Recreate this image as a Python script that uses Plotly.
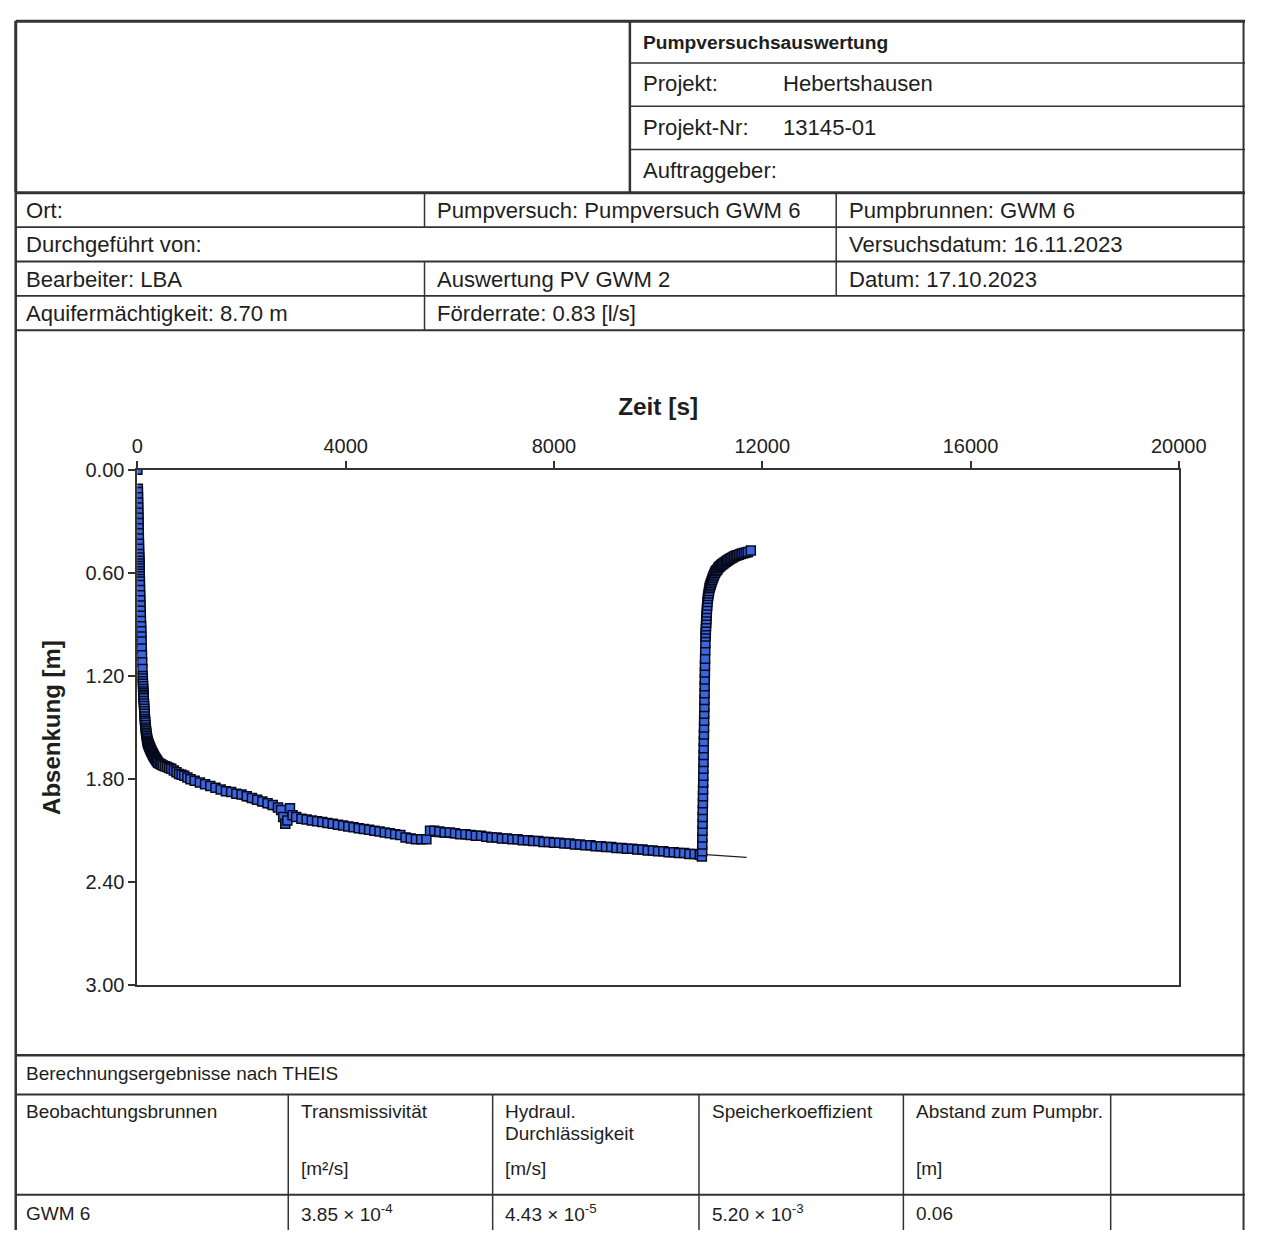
import plotly.graph_objects as go

# ---------------- data ----------------
pump_t = [0, 8, 10, 12, 14, 16, 18, 20, 22, 24, 26, 28, 30, 32, 34, 36, 38, 40, 41, 42, 43, 44, 45, 46,
          47, 48, 50, 53, 56, 59, 62, 65, 68, 71, 74, 77, 80, 84, 88, 92, 96,
          100, 102, 104, 106, 108, 110, 112, 114, 116, 118, 120, 123, 126, 129, 132, 135, 138, 141,
          144, 147, 150, 154, 158, 162, 166, 170, 175, 180, 185, 190, 195, 200, 206, 212, 218, 224,
          230, 237, 244, 251, 258, 265, 273, 281, 289, 297, 305, 315, 325, 335, 345, 355, 366, 377,
          388, 400, 430, 460, 490, 530, 570, 610, 650, 700, 750, 800, 850, 900, 960, 1020,
          1100, 1200, 1300, 1400, 1500, 1600, 1700, 1800, 1900, 2000, 2100, 2200, 2300, 2400,
          2500, 2600, 2700, 2760, 2800, 2840, 2880, 2930, 2980, 3050, 3150, 3250, 3350, 3450,
          3550, 3650, 3750, 3850, 3950, 4050, 4150, 4250, 4350, 4450, 4550, 4650, 4750, 4850,
          4950, 5050, 5150, 5250, 5350, 5450, 5550, 5620, 5700, 5800, 5900, 6000, 6100, 6200,
          6300, 6400, 6500, 6600, 6700, 6800, 6900, 7000, 7100, 7200, 7300, 7400, 7500, 7600,
          7700, 7800, 7900, 8000, 8100, 8200, 8300, 8400, 8500, 8600, 8700, 8800, 8900, 9000,
          9100, 9200, 9300, 9400, 9500, 9600, 9700, 9800, 9900, 10000, 10100, 10200, 10300,
          10400, 10500, 10600, 10700, 10800, 10840]
pump_s = [0.00, 0.11, 0.13, 0.16, 0.19, 0.22, 0.25, 0.28, 0.31, 0.34, 0.37, 0.40, 0.43, 0.46, 0.49, 0.51, 0.53, 0.545, 0.56, 0.575, 0.59, 0.605, 0.62, 0.635,
          0.65, 0.67, 0.70, 0.73, 0.76, 0.79, 0.82, 0.85, 0.88, 0.91, 0.94, 0.97, 1.00, 1.04, 1.08, 1.12, 1.16,
          1.20, 1.215, 1.23, 1.245, 1.26, 1.275, 1.29, 1.30, 1.31, 1.32, 1.33, 1.345, 1.36, 1.375, 1.39, 1.405, 1.42, 1.435,
          1.45, 1.46, 1.47, 1.485, 1.50, 1.51, 1.52, 1.53, 1.54, 1.55, 1.56, 1.57, 1.58, 1.585, 1.59, 1.595, 1.60, 1.605,
          1.61, 1.615, 1.62, 1.625, 1.63, 1.635, 1.64, 1.645, 1.65, 1.655, 1.66, 1.665, 1.67, 1.675, 1.68, 1.685, 1.69, 1.695,
          1.70, 1.705, 1.71, 1.715, 1.72, 1.725, 1.73, 1.735, 1.74, 1.75, 1.76, 1.77, 1.775, 1.78, 1.79, 1.80,
          1.81, 1.82, 1.83, 1.84, 1.85, 1.86, 1.87, 1.875, 1.885, 1.89, 1.90, 1.91, 1.92, 1.93,
          1.94, 1.95, 1.965, 1.98, 2.02, 2.06, 2.04, 1.97, 2.01, 2.02, 2.03, 2.035, 2.04, 2.045,
          2.05, 2.055, 2.06, 2.065, 2.07, 2.075, 2.08, 2.085, 2.09, 2.095, 2.10, 2.105, 2.11, 2.115,
          2.12, 2.125, 2.14, 2.145, 2.15, 2.15, 2.15, 2.10, 2.10, 2.105, 2.11, 2.11, 2.115, 2.12,
          2.12, 2.125, 2.13, 2.13, 2.135, 2.14, 2.14, 2.145, 2.145, 2.15, 2.15, 2.155, 2.155, 2.16,
          2.16, 2.165, 2.165, 2.17, 2.17, 2.175, 2.175, 2.18, 2.18, 2.185, 2.185, 2.19, 2.19, 2.195,
          2.195, 2.20, 2.20, 2.205, 2.205, 2.21, 2.21, 2.215, 2.215, 2.22, 2.22, 2.225, 2.225,
          2.23, 2.23, 2.235, 2.235, 2.24, 2.25]

rec_t = [10846, 10848, 10850, 10852, 10854, 10856, 10858, 10860, 10862, 10864, 10866, 10868,
         10870, 10872, 10874, 10876, 10878, 10880, 10882, 10884, 10886, 10888, 10890, 10892,
         10894, 10896, 10898, 10900, 10902, 10905, 10908, 10911, 10914, 10917, 10920, 10923,
         10926, 10930, 10934, 10938, 10943, 10948, 10955, 10962, 10970, 10978, 10987, 10996,
         11006, 11016, 11027, 11039, 11051, 11064, 11078, 11093, 11108, 11123, 11140, 11157,
         11175, 11194, 11213, 11233, 11254, 11276, 11299, 11323, 11348, 11374, 11401, 11429,
         11458, 11488, 11519, 11551, 11584, 11618, 11653, 11689, 11726, 11780]
rec_s = [2.22, 2.18, 2.14, 2.10, 2.06, 2.02, 1.98, 1.94, 1.90, 1.86, 1.82, 1.78,
         1.74, 1.70, 1.66, 1.62, 1.58, 1.54, 1.50, 1.46, 1.42, 1.38, 1.34, 1.30,
         1.26, 1.22, 1.18, 1.14, 1.10, 1.05, 1.01, 0.97, 0.95, 0.93, 0.91, 0.89,
         0.87, 0.85, 0.83, 0.81, 0.79, 0.77, 0.75, 0.735, 0.72, 0.705, 0.69, 0.68,
         0.67, 0.66, 0.65, 0.64, 0.63, 0.62, 0.61, 0.60, 0.59, 0.585, 0.58, 0.57,
         0.565, 0.56, 0.555, 0.55, 0.545, 0.54, 0.535, 0.53, 0.525, 0.52, 0.515, 0.51,
         0.505, 0.50, 0.497, 0.494, 0.491, 0.488, 0.485, 0.482, 0.479, 0.47]

theis_t = [5, 20, 50, 100, 200, 400, 1000, 2000, 3000, 5000, 5500, 8000, 10800, 11700]
theis_s = [0.20, 0.55, 0.90, 1.20, 1.50, 1.68, 1.80, 1.92, 2.02, 2.11, 2.13, 2.18, 2.24, 2.255]

x_ticks = [0, 4000, 8000, 12000, 16000, 20000]
y_ticks = [0.0, 0.6, 1.2, 1.8, 2.4, 3.0]

# ---------------- layout helpers ----------------
# the figure fills the whole browser window; positions are given as
# fractions of the 1273 x 1241 reference page
W, H = 1273.0, 1241.0
FONT = "Liberation Sans, Arial, sans-serif"
TXT = "#1e1e1e"
LINE = "#333333"


def px(x):
    return x / W


def py(y):
    return 1 - y / H


shapes = []
annotations = []


def hline(x0, x1, y, w=1.5):
    shapes.append(dict(type="line", xref="paper", yref="paper", x0=px(x0), x1=px(x1),
                       y0=py(y), y1=py(y), line=dict(color=LINE, width=w)))


def vline(x, y0, y1, w=1.5):
    shapes.append(dict(type="line", xref="paper", yref="paper", x0=px(x), x1=px(x),
                       y0=py(y0), y1=py(y1), line=dict(color=LINE, width=w)))


def text(x, y, s, size=22.1, bold=False):
    if bold:
        s = "<b>" + s + "</b>"
    annotations.append(dict(xref="paper", yref="paper", x=px(x), y=py(y), text=s,
                            showarrow=False, xanchor="left", yanchor="middle",
                            font=dict(family=FONT, size=size, color=TXT)))


# header block (thick)
hline(10, 1273, 10.5, 3)
hline(10, 1273, 185, 3)
vline(10, 10, 185, 3)
vline(641, 10, 185, 2.5)
for yy in [53, 97, 141]:
    hline(641, 1273, yy, 1.5)

# info rows
for yy in [220, 255, 290, 325]:
    hline(10, 1273, yy, 1.8)
vline(10, 185, 1241, 2.5)
vline(1271.5, 10, 1241, 2)
vline(430, 185, 220)
vline(853, 185, 290)
vline(430, 255, 325)

# bottom table
hline(10, 1273, 1063, 2.5)
hline(10, 1273, 1103, 2)
hline(10, 1273, 1205, 2)
for xx in [290, 500, 712, 922, 1135]:
    vline(xx, 1103, 1241, 1.5)

# texts
text(652, 32, "Pumpversuchsauswertung", 19.2, bold=True)
text(652, 74, "Projekt:")
text(796, 74, "Hebertshausen")
text(652, 119, "Projekt-Nr:")
text(796, 119, "13145-01")
text(652, 162, "Auftraggeber:")

text(19, 203, "Ort:")
text(441, 203, "Pumpversuch: Pumpversuch GWM 6")
text(864, 203, "Pumpbrunnen: GWM 6")
text(19, 238, "Durchgeführt von:")
text(864, 238, "Versuchsdatum: 16.11.2023")
text(19, 273, "Bearbeiter: LBA")
text(441, 273, "Auswertung PV GWM 2")
text(864, 273, "Datum: 17.10.2023")
text(19, 308, "Aquifermächtigkeit: 8.70 m")
text(441, 308, "Förderrate: 0.83 [l/s]")

S = 19
text(19, 1082, "Berechnungsergebnisse nach THEIS", S)
text(19, 1120, "Beobachtungsbrunnen", S)
text(301, 1120, "Transmissivität", S)
text(511, 1120, "Hydraul.", S)
text(511, 1143, "Durchlässigkeit", S)
text(723, 1120, "Speicherkoeffizient", S)
text(933, 1120, "Abstand zum Pumpbr.", S)
text(301, 1178, "[m²/s]", S)
text(511, 1178, "[m/s]", S)
text(933, 1178, "[m]", S)
text(19, 1224, "GWM 6", S)
text(301, 1224, "3.85 × 10<sup>-4</sup>", S)
text(511, 1224, "4.43 × 10<sup>-5</sup>", S)
text(723, 1224, "5.20 × 10<sup>-3</sup>", S)
text(933, 1224, "0.06", S)

# ---------------- figure ----------------
marker = dict(symbol="square", size=9, color="#3c66e0",
              line=dict(color="#070a1c", width=1.5))

fig = go.Figure()
fig.add_trace(go.Scatter(x=theis_t, y=theis_s, mode="lines",
                         line=dict(color="#222222", width=1.3), showlegend=False))
fig.add_trace(go.Scatter(x=pump_t, y=pump_s, mode="markers", marker=marker, showlegend=False))
fig.add_trace(go.Scatter(x=rec_t, y=rec_s, mode="markers", marker=marker, showlegend=False))

fig.update_layout(
    autosize=True,
    margin=dict(l=0, r=0, t=0, b=0, pad=0),
    paper_bgcolor="white", plot_bgcolor="white",
    font=dict(family=FONT, color=TXT),
    shapes=shapes, annotations=annotations,
    xaxis=dict(domain=[px(135), px(1205)], range=[0, 20000], side="top",
               tickvals=x_ticks, ticktext=[str(v) for v in x_ticks],
               ticks="outside", ticklen=7, tickwidth=1.5, tickcolor="#333",
               showline=True, linecolor="#333", linewidth=2, mirror=True,
               showgrid=False, zeroline=False,
               tickfont=dict(size=20, family=FONT, color=TXT),
               title=dict(text="<b>Zeit [s]</b>", standoff=12,
                          font=dict(size=24.4, family=FONT, color=TXT))),
    yaxis=dict(domain=[py(992), py(467)], range=[3, 0],
               tickvals=y_ticks, ticktext=["%.2f" % v for v in y_ticks],
               ticks="outside", ticklen=7, tickwidth=1.5, tickcolor="#333",
               showline=True, linecolor="#333", linewidth=2, mirror=True,
               showgrid=False, zeroline=False,
               tickfont=dict(size=20, family=FONT, color=TXT),
               title=dict(text="<b>Absenkung [m]</b>", standoff=18,
                          font=dict(size=24, family=FONT, color=TXT))),
)

# the plot div is pinned to the window so that the page fills the viewport exactly
fig.write_html("out.html", config={"displayModeBar": False, "responsive": True},
               default_width="100vw; position:fixed; left:0; top:0",
               default_height="100vh")
